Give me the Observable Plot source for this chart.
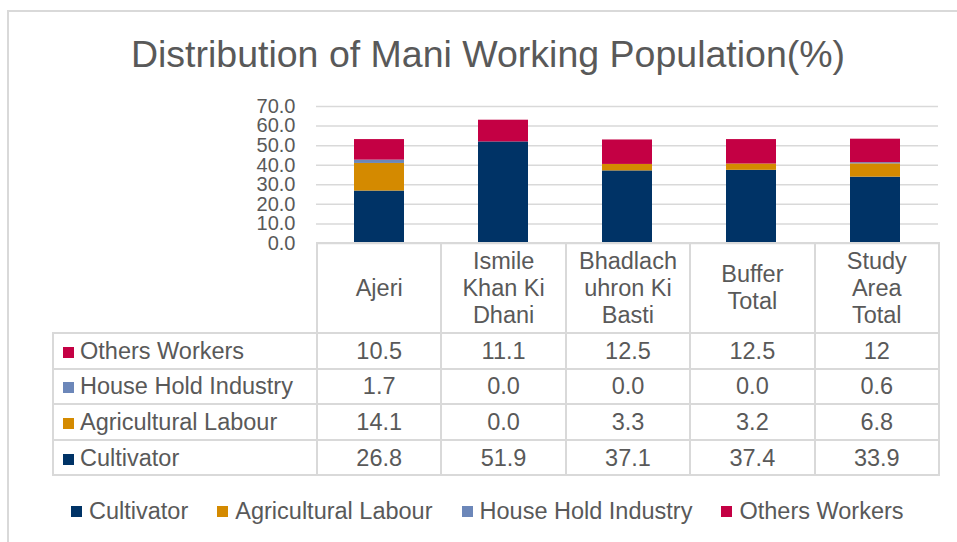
<!DOCTYPE html>
<html>
<head>
<meta charset="utf-8">
<script src="https://cdn.jsdelivr.net/npm/d3@7"></script>
<script src="https://cdn.jsdelivr.net/npm/@observablehq/plot@0.6"></script>
<style>
  html, body { margin: 0; padding: 0; background: #fff; }
  #root { position: relative; width: 957px; height: 542px; overflow: hidden; background: #fff;
          font-family: "Liberation Sans", Arial, sans-serif; color: #595959; }
  #frame { position: absolute; left: 7px; top: 10px; width: 960px; height: 540px;
           border-left: 2px solid #d9d9d9; border-top: 2px solid #d9d9d9; box-sizing: border-box; }
  #title { position: absolute; left: 0; top: 36px; width: 976px; text-align: center;
           font-size: 37.5px; line-height: 37px; white-space: nowrap; }
  #chart { position: absolute; left: 0; top: 0; }
  #tbl { position: absolute; left: 52px; top: 242px; border-collapse: collapse; table-layout: fixed;
         font-size: 23.5px; color: #595959; }
  #tbl td { border: 2px solid #d9d9d9; text-align: center; vertical-align: middle; padding: 0; white-space: nowrap; }
  #tbl tr.head td { height: 88px; line-height: 27px; }
  #tbl tr.head td.blank { border: none; border-bottom: 2px solid #d9d9d9; }
  #tbl tr.row td { height: 33.6px; line-height: 24px; }
  #tbl td.lab { text-align: left; padding-left: 9px; }
  .sw { display: inline-block; width: 11px; height: 11px; margin-right: 6px; vertical-align: 1px; }
  #legend { position: absolute; left: 71px; top: 500px; display: flex; font-size: 23.5px; line-height: 23px; white-space: nowrap; }
  #legend .item { display: flex; align-items: center; margin-right: 29px; }
  #legend .sw { margin-right: 7px; vertical-align: 0; }
</style>
</head>
<body>
<div id="root">
  <div id="frame"></div>
  <div id="chart"></div>
  <div id="title"></div>
  <table id="tbl"></table>
  <div id="legend"></div>
</div>
<script>
// ---- data ----
const title = "Distribution of Mani Working Population(%)";
const categories = ["Ajeri", "Ismile Khan Ki Dhani", "Bhadlachuhron Ki Basti", "Buffer Total", "Study Area Total"];
const categoryLines = [["Ajeri"], ["Ismile", "Khan Ki", "Dhani"], ["Bhadlach", "uhron Ki", "Basti"], ["Buffer", "Total"], ["Study", "Area", "Total"]];
const seriesNames = ["Cultivator", "Agricultural Labour", "House Hold Industry", "Others Workers"];
const cultivator = [26.8, 51.9, 37.1, 37.4, 33.9];
const agriculturalLabour = [14.1, 0.0, 3.3, 3.2, 6.8];
const houseHoldIndustry = [1.7, 0.0, 0.0, 0.0, 0.6];
const othersWorkers = [10.5, 11.1, 12.5, 12.5, 12];
const valueLabels = {
  "Cultivator": ["26.8", "51.9", "37.1", "37.4", "33.9"],
  "Agricultural Labour": ["14.1", "0.0", "3.3", "3.2", "6.8"],
  "House Hold Industry": ["1.7", "0.0", "0.0", "0.0", "0.6"],
  "Others Workers": ["10.5", "11.1", "12.5", "12.5", "12"]
};
const yTicks = [0, 10, 20, 30, 40, 50, 60, 70];
const colors = ["#003366", "#d48a00", "#6c87b9", "#c40044"];

// ---- build table for Plot ----
const seriesValues = [cultivator, agriculturalLabour, houseHoldIndustry, othersWorkers];
const rows = [];
seriesNames.forEach((s, si) => {
  categories.forEach((c, ci) => rows.push({category: c, series: s, value: seriesValues[si][ci]}));
});

const chart = Plot.plot({
  width: 957,
  height: 542,
  marginLeft: 316,
  marginRight: 19,
  marginTop: 106,
  marginBottom: 299,
  style: {fontFamily: '"Liberation Sans", Arial, sans-serif', fontSize: "20px", color: "#595959", background: "transparent", overflow: "visible"},
  x: {domain: categories, paddingInner: 0.6, paddingOuter: 0.3, axis: null},
  y: {domain: [0, 70]},
  color: {domain: seriesNames, range: colors},
  marks: [
    Plot.gridY(yTicks, {stroke: "#d9d9d9", strokeOpacity: 1, strokeWidth: 1.5}),
    Plot.barY(rows, Plot.stackY({x: "category", y: "value", fill: "series", order: seriesNames})),
    Plot.axisY(yTicks, {tickFormat: d => d.toFixed(1), tickSize: 0, tickPadding: 21, label: null, fontSize: 20})
  ]
});
document.getElementById("chart").appendChild(chart);
document.getElementById("title").textContent = title;

// ---- data table ----
const tbl = document.getElementById("tbl");
const colgroup = document.createElement("colgroup");
const c0 = document.createElement("col"); c0.style.width = "264px"; colgroup.appendChild(c0);
categories.forEach(() => { const c = document.createElement("col"); c.style.width = "124.4px"; colgroup.appendChild(c); });
tbl.appendChild(colgroup);
tbl.style.width = (264 + 124.4 * categories.length) + "px";
const head = document.createElement("tr"); head.className = "head";
const blank = document.createElement("td"); blank.className = "blank"; head.appendChild(blank);
categoryLines.forEach(lines => {
  const td = document.createElement("td");
  td.innerHTML = lines.map(l => l.replace(/&/g, "&amp;")).join("<br>");
  head.appendChild(td);
});
tbl.appendChild(head);
[...seriesNames].reverse().forEach(s => {
  const tr = document.createElement("tr"); tr.className = "row";
  const lab = document.createElement("td"); lab.className = "lab";
  const sw = document.createElement("span"); sw.className = "sw"; sw.style.background = colors[seriesNames.indexOf(s)];
  lab.appendChild(sw); lab.appendChild(document.createTextNode(s));
  tr.appendChild(lab);
  valueLabels[s].forEach(v => { const td = document.createElement("td"); td.textContent = v; tr.appendChild(td); });
  tbl.appendChild(tr);
});

// ---- legend ----
const legend = document.getElementById("legend");
seriesNames.forEach((s, i) => {
  const it = document.createElement("div"); it.className = "item";
  const sw = document.createElement("span"); sw.className = "sw"; sw.style.background = colors[i];
  it.appendChild(sw); it.appendChild(document.createTextNode(s));
  legend.appendChild(it);
});
</script>
</body>
</html>
